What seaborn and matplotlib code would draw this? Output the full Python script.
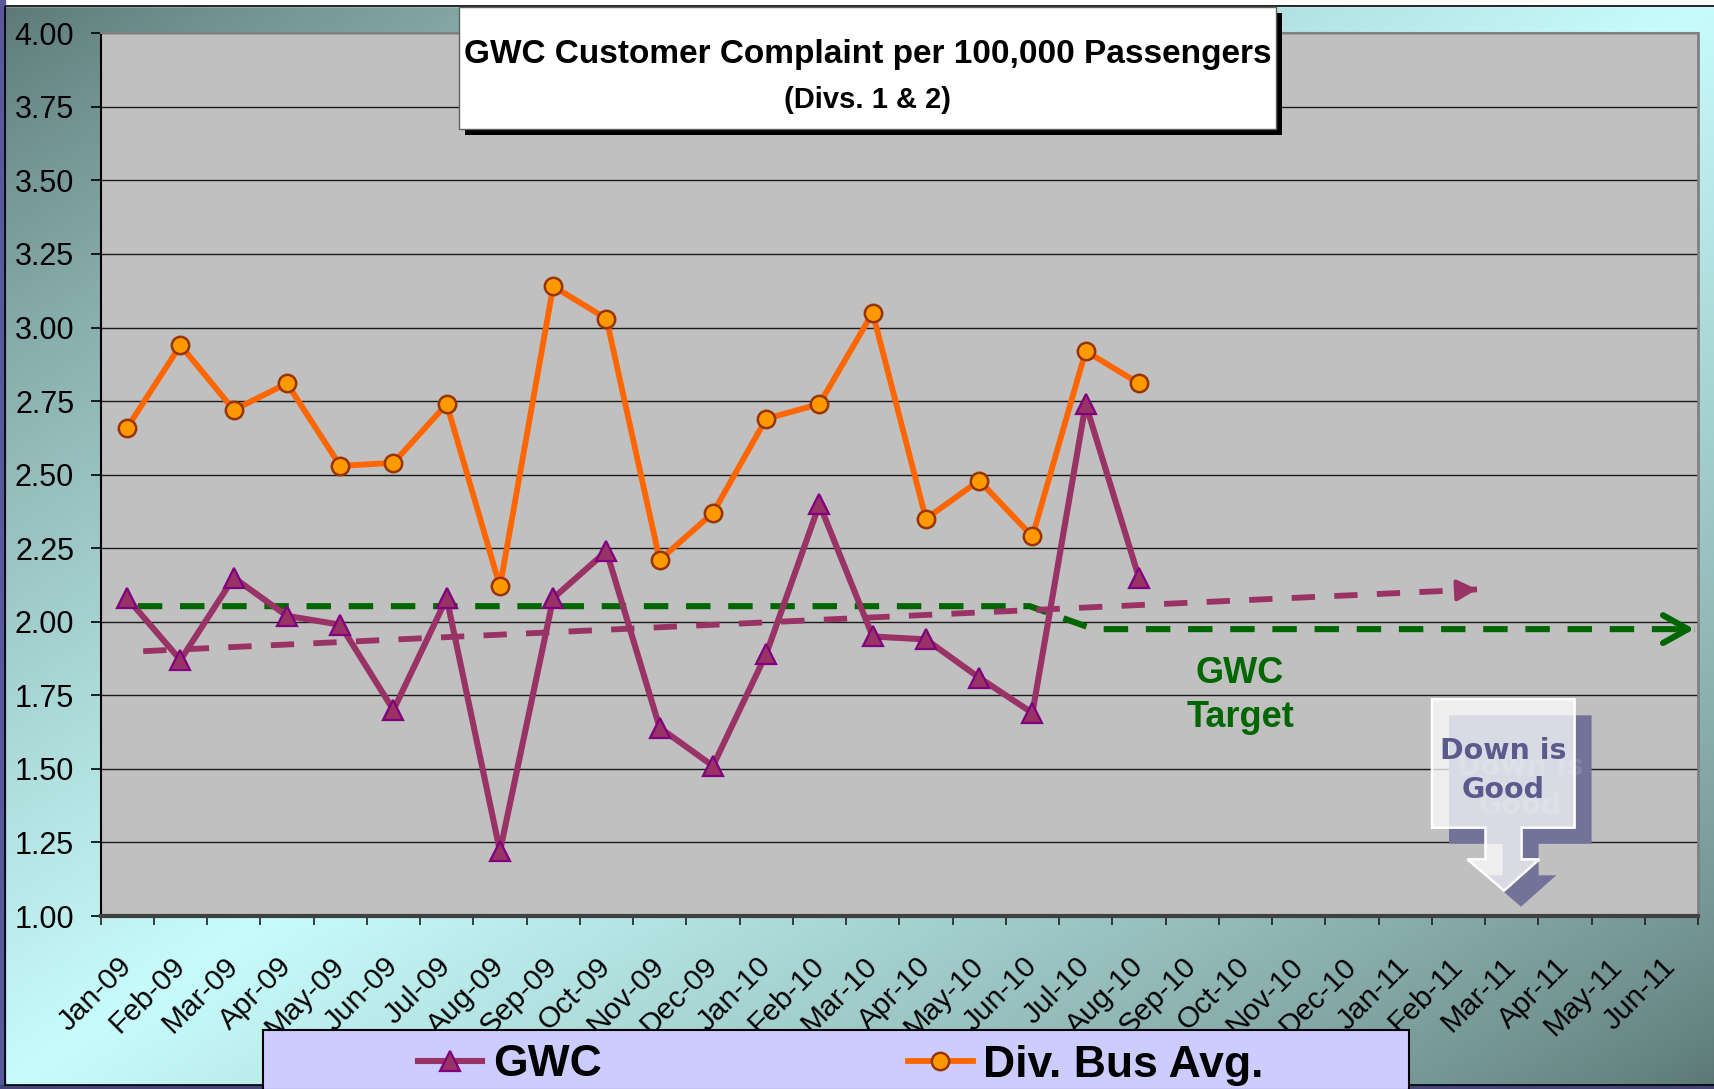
import numpy as np
import matplotlib
matplotlib.use("Agg")
import matplotlib.pyplot as plt
from matplotlib.patches import Rectangle, Polygon
from matplotlib.transforms import Affine2D
import seaborn as sns

# ---- data ----
months = ['Jan-09', 'Feb-09', 'Mar-09', 'Apr-09', 'May-09', 'Jun-09',
          'Jul-09', 'Aug-09', 'Sep-09', 'Oct-09', 'Nov-09', 'Dec-09',
          'Jan-10', 'Feb-10', 'Mar-10', 'Apr-10', 'May-10', 'Jun-10',
          'Jul-10', 'Aug-10', 'Sep-10', 'Oct-10', 'Nov-10', 'Dec-10',
          'Jan-11', 'Feb-11', 'Mar-11', 'Apr-11', 'May-11', 'Jun-11']
gwc = [2.08, 1.87, 2.15, 2.02, 1.99, 1.70, 2.08, 1.22, 2.08, 2.24,
       1.64, 1.51, 1.89, 2.40, 1.95, 1.94, 1.81, 1.69, 2.74, 2.15]
div_bus_avg = [2.66, 2.94, 2.72, 2.81, 2.53, 2.54, 2.74, 2.12, 3.14, 3.03,
               2.21, 2.37, 2.69, 2.74, 3.05, 2.35, 2.48, 2.29, 2.92, 2.81]
y_ticks = [1.00, 1.25, 1.50, 1.75, 2.00, 2.25, 2.50, 2.75, 3.00, 3.25, 3.50, 3.75, 4.00]

# target (green) and trend (purple) guide lines, in category/value units
target_x = [0.2, 16.95, 18.15, 29.43]
target_y = [2.053, 2.053, 1.975, 1.975]
trend_x = [0.3, 25.35]
trend_y = [1.90, 2.11]

W, H = 1715, 1089
PURPLE = '#993366'
ORANGE = '#ff6600'
GREEN = '#006600'

plt.rcParams['font.family'] = ['Liberation Sans', 'DejaVu Sans']

fig = plt.figure(figsize=(W / 100, H / 100), dpi=100)
# pixel coords measured from the top-left corner
pix = Affine2D().scale(1 / 100, -1 / 100).translate(0, H / 100) + fig.dpi_scale_trans

# ---- gradient background ----
bg = fig.add_axes([0, 0, 1, 1], zorder=0)
u, v = np.meshgrid(np.linspace(0, 1, 400), np.linspace(0, 1, 300))
b = np.clip(1 - np.abs(u + v - 1), 0, 1) ** 0.8
dark = np.array([90, 118, 116]) / 255
light = np.array([200, 252, 252]) / 255
bg.imshow(dark + b[..., None] * (light - dark), extent=[0, W, H, 0], aspect='auto')
bg.set_xlim(0, W)
bg.set_ylim(H, 0)
bg.axis('off')
bg.add_patch(Rectangle((0, 0), W, 6, color='white'))
bg.add_patch(Rectangle((0, 0), 5, H, color='#58589a'))
bg.add_patch(Rectangle((0, 1085), W, 4, color='#45457a'))
bg.add_patch(Rectangle((5, 6), W, 1079, fill=False, ec='black', lw=1.2))

# ---- main plot ----
ax = fig.add_axes([100.6 / W, 1 - 916 / H, (1698 - 100.6) / W, (916 - 33.3) / H], zorder=2)
ax.set_facecolor('#c0c0c0')
x = np.arange(len(gwc))

ax.plot(target_x, target_y, color=GREEN, lw=4.4, dashes=(4.0, 2.9), zorder=3)
ax.annotate('', xy=(target_x[-1], target_y[-1]), xytext=(target_x[-1] - 0.3, target_y[-1]),
            arrowprops=dict(arrowstyle='->,head_length=0.9,head_width=0.5', color=GREEN,
                            lw=4.4, mutation_scale=20, shrinkA=0, shrinkB=0), zorder=3)
ax.plot(trend_x, trend_y, color=PURPLE, lw=4.2, dashes=(4.0, 3.3), zorder=3)
slope = (trend_y[1] - trend_y[0]) / (trend_x[1] - trend_x[0])
ax.annotate('', xy=(trend_x[1], trend_y[1]), xytext=(trend_x[1] - 0.3, trend_y[1] - 0.3 * slope),
            arrowprops=dict(arrowstyle='-|>,head_length=0.6,head_width=0.32', color=PURPLE,
                            lw=3, mutation_scale=20, shrinkA=0, shrinkB=0), zorder=3)

sns.lineplot(x=x, y=gwc, ax=ax, color=PURPLE, linewidth=4.4, marker='^', markersize=14,
             mfc=PURPLE, mec='#800080', mew=1.6, label='GWC', zorder=5)
sns.lineplot(x=x, y=div_bus_avg, ax=ax, color=ORANGE, linewidth=4.2, marker='o', markersize=12.5,
             mfc='#ff9900', mec='#993300', mew=1.8, label='Div. Bus Avg.', zorder=5)
handles, labels = ax.get_legend_handles_labels()
ax.get_legend().remove()

ax.text(20.9, 1.791, 'GWC', ha='center', va='baseline', color=GREEN, fontsize=26, fontweight='bold')
ax.text(20.9, 1.641, 'Target', ha='center', va='baseline', color=GREEN, fontsize=26, fontweight='bold')

ax.set_xlim(-0.5, 29.5)
ax.set_ylim(1, 4)
ax.set_yticks(y_ticks)
ax.set_yticklabels([f'{t:.2f}' for t in y_ticks], fontsize=22)
ax.set_xticks(range(len(months)))
ax.set_xticklabels(months, rotation=45, ha='right', va='center', rotation_mode='anchor', fontsize=21.5)
ax.set_xticks(np.arange(-0.5, len(months), 1), minor=True)
ax.tick_params(axis='x', which='major', length=0, pad=33)
ax.tick_params(axis='x', which='minor', length=6.5, width=1.2, color='#202020')
ax.tick_params(axis='y', length=7, width=1.2, pad=12)
ax.grid(axis='y', color='#1a1a1a', lw=1)
ax.set_axisbelow(True)
ax.spines['left'].set_color('black')
ax.spines['left'].set_linewidth(1.5)
ax.spines['bottom'].set_color('#404040')
ax.spines['bottom'].set_linewidth(3)
ax.spines['top'].set_color('#808080')
ax.spines['top'].set_linewidth(1.5)
ax.spines['right'].set_color('#808080')
ax.spines['right'].set_linewidth(2)

# ---- title box ----
fig.add_artist(Rectangle((465, 12.7), 817, 122.3, transform=pix, fc='black', zorder=5))
fig.add_artist(Rectangle((459, 6.7), 817, 122.3, transform=pix, fc='white', ec='#606060', lw=1, zorder=6))
fig.text(867.5 / W, 1 - 63.3 / H, 'GWC Customer Complaint per 100,000 Passengers',
         ha='center', va='baseline', fontsize=24, fontweight='bold', zorder=7)
fig.text(867.5 / W, 1 - 108.3 / H, '(Divs. 1 & 2)',
         ha='center', va='baseline', fontsize=21, fontweight='bold', zorder=7)

# ---- "Down is Good" callout (with faint drop shadow) ----
callout = np.array([(1432, 699.3), (1574.6, 699.3), (1574.6, 827.7), (1521.6, 827.7),
                    (1521.6, 859.3), (1539.3, 859.3), (1504, 890.7), (1467.5, 859.3),
                    (1485.5, 859.3), (1485.5, 827.7), (1432, 827.7)])
fig.add_artist(Polygon(callout + [17, 16], closed=True, transform=pix, fc='#737399', ec='none', zorder=5))
for txt, yb in [('Down is', 759.3), ('Good', 797.7)]:
    fig.text(1503.6 + 17, yb + 16, txt, transform=pix, ha='center', va='baseline', fontsize=20.5,
             fontweight='bold', family='DejaVu Sans', color='#8585a8', zorder=5)
fig.add_artist(Polygon(callout, closed=True, transform=pix, fc=(1, 1, 1, 0.74),
                       ec='white', lw=1.8, zorder=6))
for txt, yb in [('Down is', 759.3), ('Good', 797.7)]:
    fig.text(1503.6, yb, txt, transform=pix, ha='center', va='baseline', fontsize=20.5,
             fontweight='bold', family='DejaVu Sans', color='#5a5a8c', zorder=7)

# ---- legend ----
fig.add_artist(Rectangle((263, 1030), 1146, 60, transform=pix, fc='#ccccff', ec='black', lw=1.5, zorder=4))
fig.legend(handles, labels, loc='center left', bbox_to_anchor=(418 / W, 1 - 1065 / H), ncol=2,
           frameon=False, borderpad=0, borderaxespad=0, handlelength=1.45, handletextpad=0.23,
           columnspacing=6.9, prop={'size': 32, 'weight': 'bold'})

fig.savefig('out.png', dpi=100)
